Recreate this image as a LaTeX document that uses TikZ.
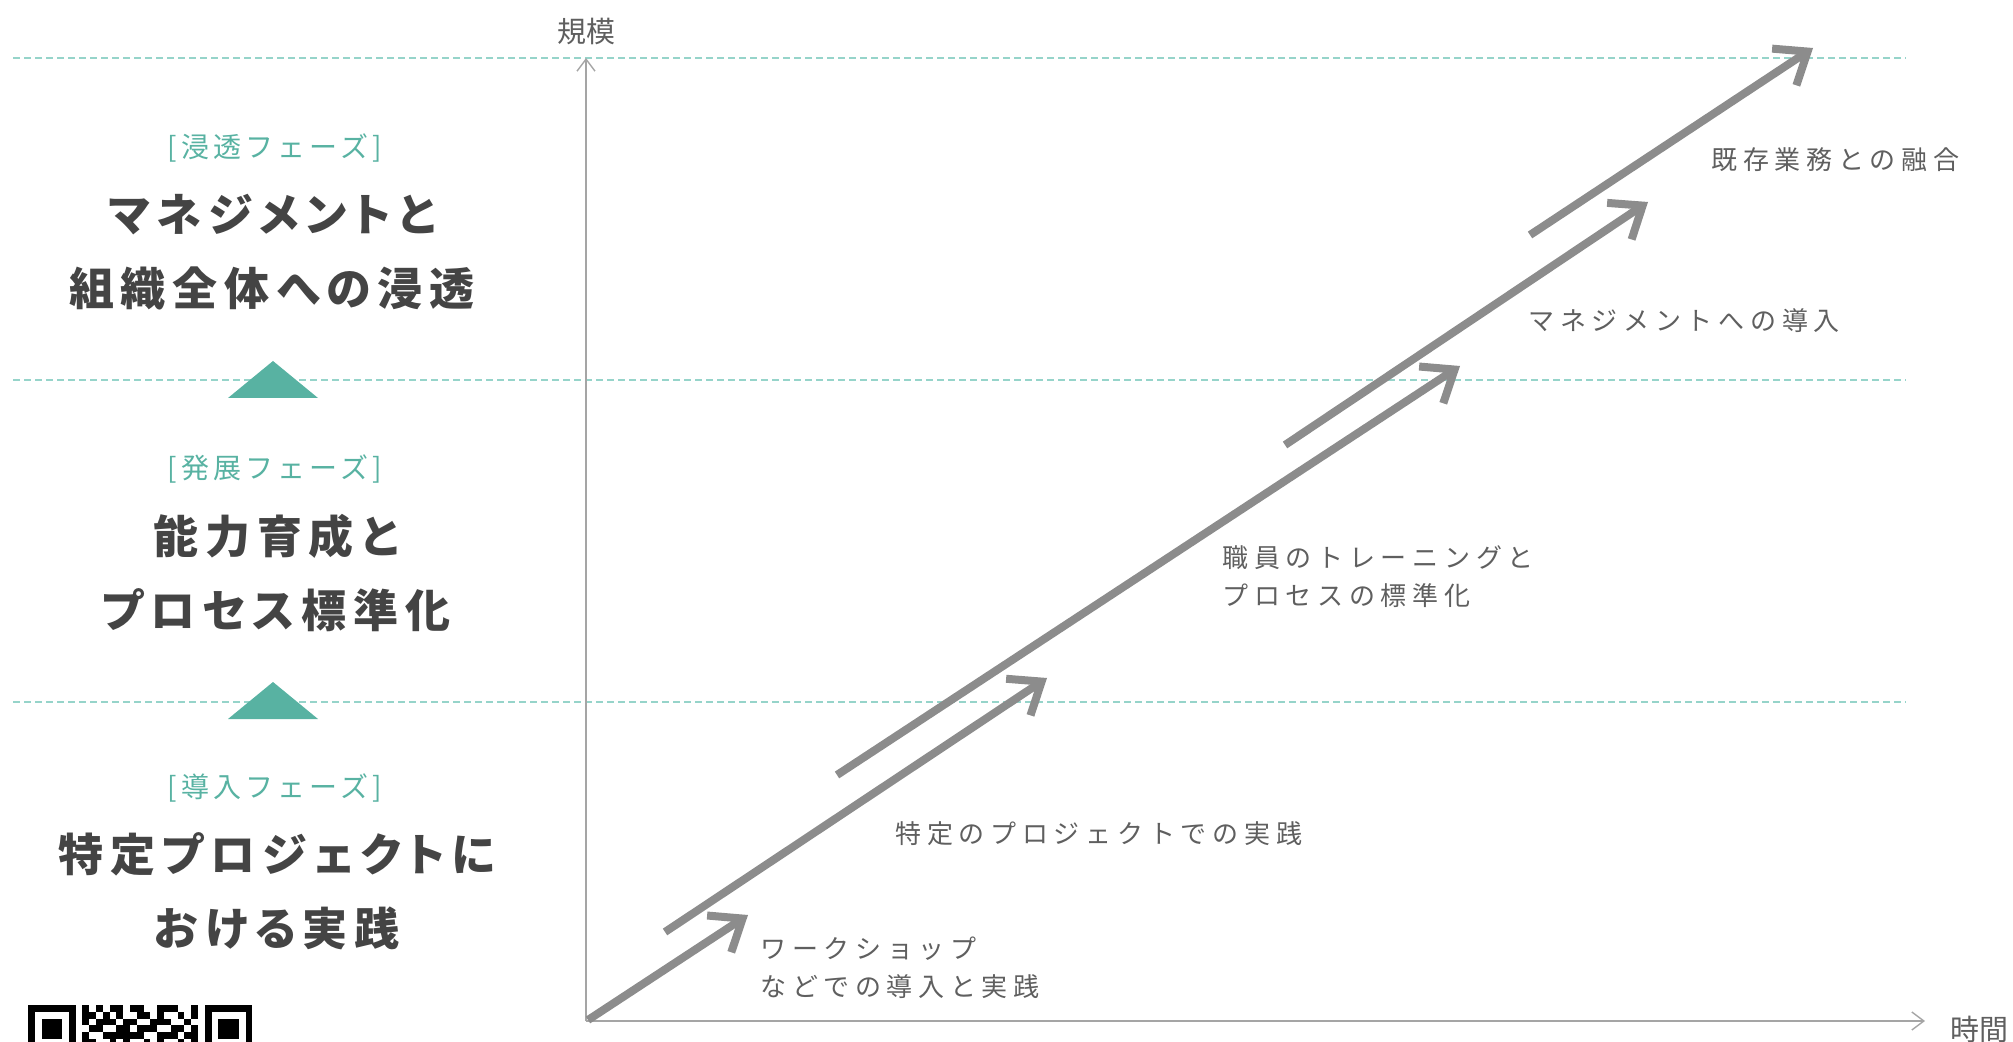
\documentclass[tikz,border=0pt]{standalone}
\usepackage{fontspec}
\setmainfont{Noto Sans CJK JP}
\newfontfamily\jpsans{Noto Sans CJK JP}
\newfontfamily\jptag[LetterSpace=15]{Noto Sans CJK JP}
\newfontfamily\jptitle[RawFeature=+palt, LetterSpace=15]{Noto Sans CJK JP}
\newfontfamily\jpwide[LetterSpace=22]{Noto Sans CJK JP}
\usetikzlibrary{arrows.meta}

\definecolor{phaseteal}{RGB}{88,178,162}
\definecolor{guideteal}{RGB}{150,212,202}
\definecolor{arrowgray}{RGB}{140,140,140}
\definecolor{axisgray}{RGB}{165,165,165}
\definecolor{labelgray}{RGB}{95,95,95}
\definecolor{titlegray}{RGB}{68,68,68}

\tikzset{
	guideline/.style={line width=0.75pt, color=guideteal, dash pattern=on 3.5pt off 2pt},
	axisline/.style={line width=0.7pt, color=axisgray, -{Straight Barb[length=6pt, width=9pt]}},
	growarrow/.style={line width=4pt, color=arrowgray, -{Straight Barb[length=14pt, width=22pt]}},
	phasetag/.style={inner sep=0pt, color=phaseteal, font=\jptag\fontsize{14pt}{16pt}\selectfont},
	phasetitle/.style={inner sep=0pt, color=titlegray, align=center, font=\jptitle\bfseries\fontsize{22.5pt}{37pt}\selectfont},
	phasemark/.style={fill=phaseteal, draw=none},
	steplabel/.style={inner sep=0pt, color=labelgray, anchor=west, align=left, font=\jpwide\fontsize{13pt}{19pt}\selectfont},
	axislabel/.style={inner sep=0pt, color=labelgray, font=\jpsans\fontsize{14.5pt}{16pt}\selectfont},
}

% one row of qr modules: (row)[columns]
\def\qrrow(#1)[#2]{\foreach \c in {#2} {\fill ({28+\c*6.8}, {1005+#1*6.8}) rectangle +(6.8, 6.8);}}

\begin{document}
\begin{tikzpicture}[x=0.5pt, y=-0.5pt]
	%%%%% START %%%%%
	
	\useasboundingbox (0, 0) rectangle (2013, 1042);
	\clip (0, 0) rectangle (2013, 1042);
	
	\draw[guideline] (13, 58) -- (1906, 58);
	\draw[guideline] (13, 380) -- (1906, 380);
	\draw[guideline] (13, 702) -- (1906, 702);
	
	\coordinate (O) at (586, 1021);
	\coordinate (ytip) at (586, 58);
	\coordinate (xtip) at (1925, 1021);
	\draw[axisline] (O) -- (ytip);
	\draw[axisline] (O) -- (xtip);
	\node[axislabel] (ylabel) at (586, 31) {規模};
	\node[axislabel] (xlabel) at (1979, 1029) {時間};
	
	% phases
	\node[phasetag] (tagShinto) at (275, 148) {[浸透フェーズ]};
	\node[phasetitle] (titleShinto) at (272, 252) {マネジメントと\\組織全体への浸透};
	\fill[phasemark] (273, 361) -- (318, 398) -- (228, 398) -- cycle;
	
	\node[phasetag] (tagHatten) at (275, 469) {[発展フェーズ]};
	\node[phasetitle] (titleHatten) at (276, 573) {能力育成と\\プロセス標準化};
	\fill[phasemark] (273, 682) -- (318, 719) -- (228, 719) -- cycle;
	
	\node[phasetag] (tagDonyu) at (275, 788) {[導入フェーズ]};
	\node[phasetitle] (titleDonyu) at (277, 891) {特定プロジェクトに\\おける実践};
	
	% growth arrows
	\draw[growarrow] (588, 1020) -- (748, 915);
	\draw[growarrow] (665, 932) -- (1047, 678);
	\draw[growarrow] (837, 775) -- (1460, 366);
	\draw[growarrow] (1285, 445) -- (1648, 202);
	\draw[growarrow] (1530, 235) -- (1813, 48);
	
	\node[steplabel] (lblWorkshop) at (760, 968) {ワークショップ\\などでの導入と実践};
	\node[steplabel] (lblProject) at (895, 834) {特定のプロジェクトでの実践};
	\node[steplabel] (lblTraining) at (1222, 577) {職員のトレーニングと\\プロセスの標準化};
	\node[steplabel] (lblManage) at (1528, 321) {マネジメントへの導入};
	\node[steplabel] (lblMerge) at (1711, 160) {既存業務との融合};
	
	% qr code, cut by the page edge
	\fill (28, 1005) rectangle +(47.6, 47.6);
	\fill[white] (34.8, 1011.8) rectangle +(34, 34);
	\fill (41.6, 1018.6) rectangle +(20.4, 20.4);
	\fill (204.8, 1005) rectangle +(47.6, 47.6);
	\fill[white] (211.6, 1011.8) rectangle +(34, 34);
	\fill (218.4, 1018.6) rectangle +(20.4, 20.4);
	\qrrow(0)[8,10,12,13,15,16,19,20,21,24]
	\qrrow(1)[8,9,11,13,16,17,19,22,24]
	\qrrow(2)[8,10,11,12,14,15,18,19,20,23]
	\qrrow(3)[9,10,13,14,16,17,18,21,22,24]
	\qrrow(4)[8,11,12,13,14,15,16,19,20,21,23,24]
	\qrrow(5)[8,9,12,14,17,19,22,24]
	
	%%%%% END %%%%%
\end{tikzpicture}
\end{document}
